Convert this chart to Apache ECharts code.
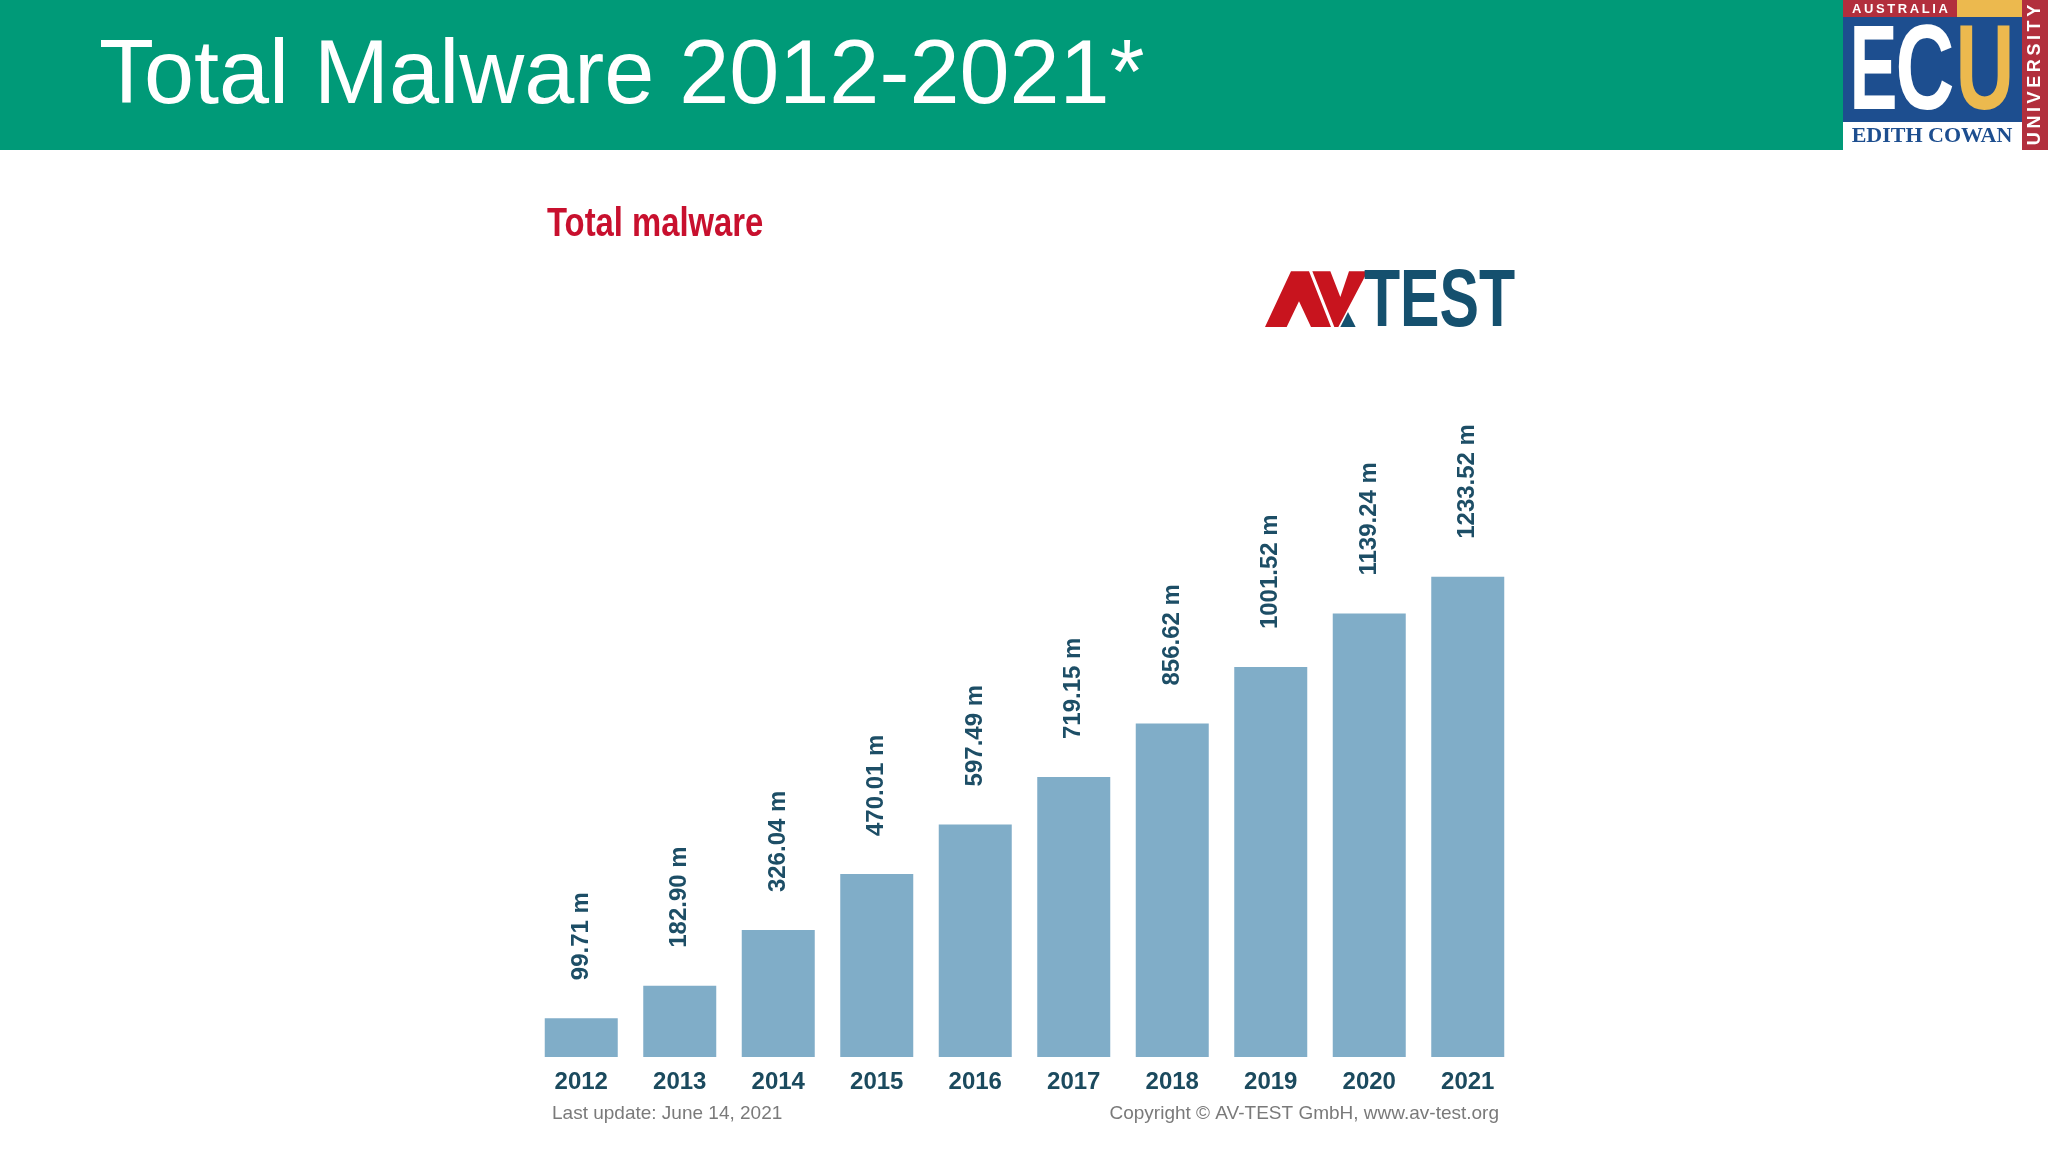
<!DOCTYPE html>
<html>
<head>
<meta charset="utf-8">
<script src="https://cdn.jsdelivr.net/npm/echarts@6/dist/echarts.min.js"></script>
<style>
html,body{margin:0;padding:0;background:#fff;}
#chart{width:2048px;height:1152px;}
</style>
</head>
<body>
<div id="chart"></div>
<script>
// ---- data ----
const years = ['2012','2013','2014','2015','2016','2017','2018','2019','2020','2021'];
const totalMalware = [99.71, 182.90, 326.04, 470.01, 597.49, 719.15, 856.62, 1001.52, 1139.24, 1233.52];
const slideTitle = 'Total Malware 2012-2021*';
const chartTitle = 'Total malware';
const footLeft = 'Last update: June 14, 2021';
const footRight = 'Copyright \u00A9 AV-TEST GmbH, www.av-test.org';

const chart = echarts.init(document.getElementById('chart'), null, {renderer:'canvas'});

// helper to convert zoomed logo coords (3x from origin) to page px
function lp(pts){ return pts.map(p => [1255 + p[0]/3, 262 + p[1]/3]); }

const SANS = '"Liberation Sans", Arial, sans-serif';

const graphics = [
  // header band
  {type:'rect', shape:{x:0,y:0,width:1843,height:150}, style:{fill:'#009A78'}, silent:true},
  {type:'text', x:99, y:78, style:{text:slideTitle, x:0, y:0, fill:'#ffffff', font:'90px ' + SANS, textAlign:'left', textVerticalAlign:'middle'}},
  // ECU logo
  {type:'rect', shape:{x:1843,y:0,width:114,height:17}, style:{fill:'#B22F3D'}},
  {type:'rect', shape:{x:1957,y:0,width:65,height:17}, style:{fill:'#ECB94E'}},
  {type:'rect', shape:{x:1843,y:17,width:179,height:105}, style:{fill:'#1D4E8F'}},
  {type:'rect', shape:{x:1843,y:122,width:179,height:28}, style:{fill:'#ffffff'}},
  {type:'rect', shape:{x:2022,y:0,width:26,height:150}, style:{fill:'#B22F3D'}},
  {type:'text', x:1900, y:9, style:{text:'A\u2009U\u2009S\u2009T\u2009R\u2009A\u2009L\u2009I\u2009A', x:0, y:0, fill:'#ffffff', font:'bold 13px ' + SANS, textAlign:'center', textVerticalAlign:'middle'}},
  {type:'text', x:1873.5, y:76, scaleX:0.6, style:{text:'E', x:0, y:0, fill:'#ffffff', font:'bold 120px ' + SANS, textAlign:'center', textVerticalAlign:'middle'}},
  {type:'text', x:1925, y:76, scaleX:0.68, style:{text:'C', x:0, y:0, fill:'#ffffff', font:'bold 120px ' + SANS, textAlign:'center', textVerticalAlign:'middle'}},
  {type:'text', x:1985, y:76, scaleX:0.68, style:{text:'U', x:0, y:0, fill:'#ECB94E', font:'bold 120px ' + SANS, textAlign:'center', textVerticalAlign:'middle'}},
  {type:'text', x:1932, y:136, style:{text:'EDITH COWAN', x:0, y:0, fill:'#1D4E8F', font:'bold 22px "Liberation Serif", "Times New Roman", serif', textAlign:'center', textVerticalAlign:'middle'}},
  {type:'text', x:2035, y:75, rotation:Math.PI/2, style:{text:'U\u2009N\u2009I\u2009V\u2009E\u2009R\u2009S\u2009I\u2009T\u2009Y', x:0, y:0, fill:'#ffffff', font:'bold 18px ' + SANS, textAlign:'center', textVerticalAlign:'middle'}},
  // chart title
  {type:'text', x:547, y:225, scaleX:0.82, style:{text:chartTitle, x:0, y:0, fill:'#C8102E', font:'bold 40px ' + SANS, textAlign:'left', textVerticalAlign:'middle'}},
  // AV-TEST logo
  {type:'polygon', shape:{points:lp([[30,195],[108,28],[162,28],[228,195],[168,195],[132,118],[95,195]])}, style:{fill:'#C8141E'}},
  {type:'polygon', shape:{points:lp([[172,28],[226,28],[256,105],[282,28],[338,28],[250,195],[238,195]])}, style:{fill:'#C8141E'}},
  {type:'polygon', shape:{points:lp([[256,195],[279,150],[302,195]])}, style:{fill:'#15506E'}},
  {type:'text', x:1364, y:304, scaleX:0.73, style:{text:'TEST', x:0, y:0, fill:'#15506E', font:'bold 81px ' + SANS, textAlign:'left', textVerticalAlign:'middle'}},
  // footer
  {type:'text', x:552, y:1114, style:{text:footLeft, x:0, y:0, fill:'#7a7a7a', font:'19px ' + SANS, textAlign:'left', textVerticalAlign:'middle'}},
  {type:'text', x:1499, y:1114, style:{text:footRight, x:0, y:0, fill:'#7a7a7a', font:'19px ' + SANS, textAlign:'right', textVerticalAlign:'middle'}}
];

const option = {
  backgroundColor:'#ffffff',
  animation:false,
  grid:{left:532, width:985, top:512, bottom:95, containLabel:false},
  xAxis:{
    type:'category', data:years,
    axisLine:{show:false}, axisTick:{show:false},
    axisLabel:{color:'#1B4A5E', fontFamily:SANS, fontWeight:'bold', fontSize:24, margin:13}
  },
  yAxis:{type:'value', min:0, max:1400, show:false, splitLine:{show:false}},
  series:[{
    type:'bar', data:totalMalware, barWidth:73,
    itemStyle:{color:'#80ADC8'},
    label:{
      show:true, position:'top', rotate:90, distance:38,
      align:'left', verticalAlign:'middle',
      color:'#1D4E66', fontWeight:'bold', fontSize:24,
      fontFamily:SANS,
      formatter: p => p.value.toFixed(2) + ' m'
    }
  }],
  graphic: graphics
};
chart.setOption(option);
</script>
</body>
</html>
